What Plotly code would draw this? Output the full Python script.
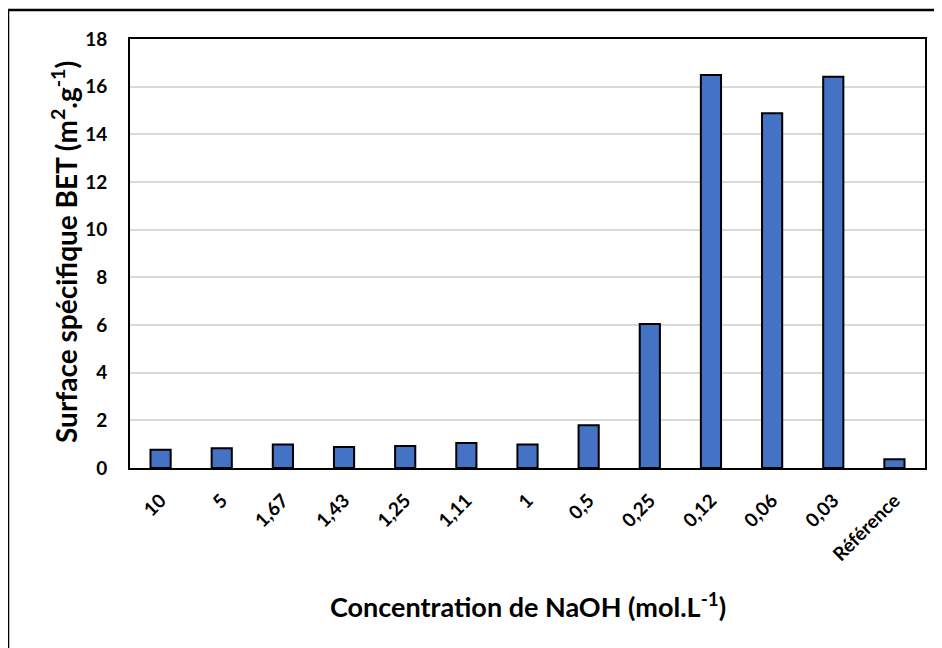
import plotly.graph_objects as go

categories = ["10", "5", "1,67", "1,43", "1,25", "1,11", "1", "0,5", "0,25", "0,12", "0,06", "0,03", "Référence"]
values = [0.77, 0.83, 0.99, 0.88, 0.92, 1.05, 0.99, 1.79, 6.04, 16.49, 14.88, 16.42, 0.37]
y_ticks = [0, 2, 4, 6, 8, 10, 12, 14, 16, 18]

# page body has an 8px margin; target screenshot coords are shifted by it
OFF = 8
W, H = 942, 648
L, T = 130 - OFF, 39 - OFF
pw, ph = 795, 429
R, B = W - L - pw, H - T - ph

def px(x):
    return (x - OFF - L) / pw

def py(y):
    return (T + ph - (y - OFF)) / ph

FONT = "Lato"

fig = go.Figure(go.Bar(
    x=categories, y=values,
    marker=dict(color="#4472C4", line=dict(color="black", width=2)),
    width=0.33,
))

fig.update_layout(
    width=W, height=H,
    margin=dict(l=L, r=R, t=T, b=B, autoexpand=False),
    paper_bgcolor="white", plot_bgcolor="white",
    showlegend=False,
    font=dict(family=FONT, color="black"),
    xaxis=dict(
        type="category",
        automargin=False,
        tickangle=-45,
        tickfont=dict(family=FONT, size=19, color="black", weight="bold"),
        showline=True, linecolor="black", linewidth=2, mirror=True,
        showgrid=False, ticks="",
        ticklabelstandoff=12,
    ),
    yaxis=dict(
        range=[0, 18],
        automargin=False,
        tickvals=y_ticks,
        tickfont=dict(family=FONT, size=19, color="black", weight="bold"),
        showline=True, linecolor="black", linewidth=2, mirror=True,
        showgrid=True, gridcolor="#d9d9d9", gridwidth=1.5,
        zeroline=False, ticks="",
        ticklabelstandoff=17,
    ),
    annotations=[
        dict(text="Surface spécifique BET (m<sup>2</sup>.g<sup>-1</sup>)",
             xref="paper", yref="paper", x=px(65), y=py(252),
             xanchor="center", yanchor="middle", textangle=-90, showarrow=False,
             font=dict(family=FONT, size=28, color="black", weight="bold")),
        dict(text="Concentration de NaOH (mol.L<sup>-1</sup>)",
             xref="paper", yref="paper", x=0.5, y=py(605),
             xanchor="center", yanchor="middle", showarrow=False,
             font=dict(family=FONT, size=27, color="black", weight="bold")),
    ],
    shapes=[
        dict(type="rect", xref="paper", yref="paper",
             x0=px(8), x1=px(960), y0=py(670), y1=py(10),
             line=dict(color="black", width=2.5), fillcolor="rgba(0,0,0,0)", layer="above"),
    ],
)

fig.write_html("out.html")
